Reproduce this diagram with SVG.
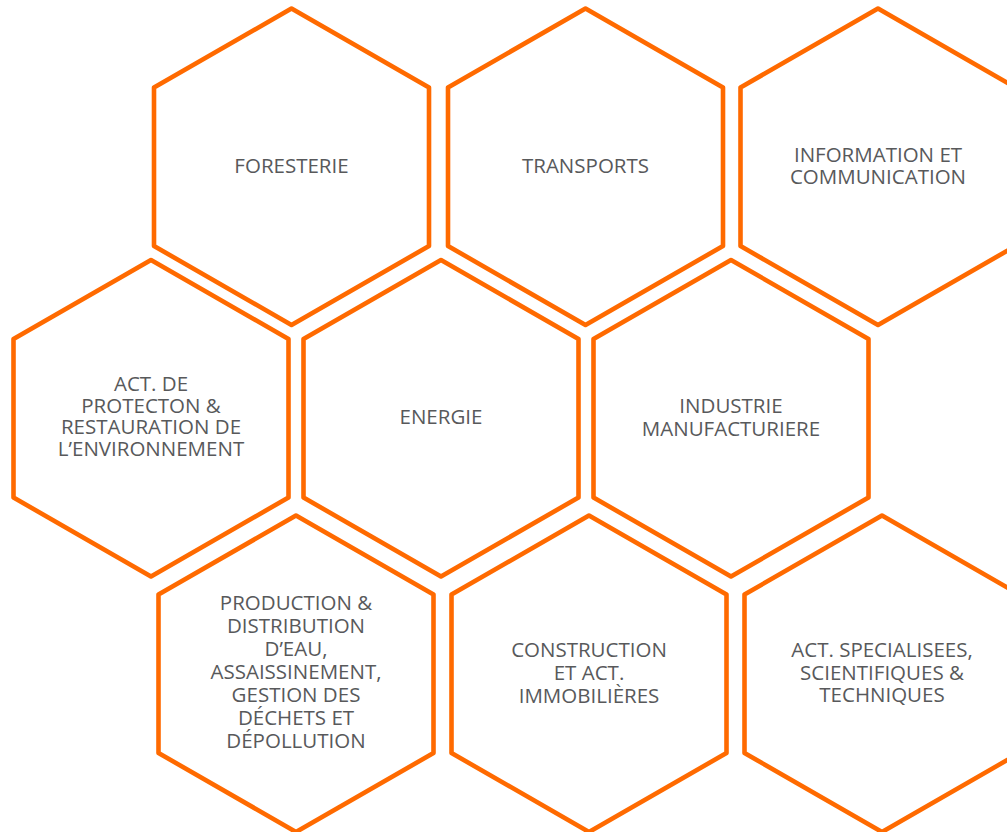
<svg xmlns="http://www.w3.org/2000/svg" width="1007" height="832" viewBox="0 0 1007 832">
<defs>
<style>
.hex{fill:#ffffff;stroke:#ff6a00;stroke-width:4.6;stroke-linejoin:round}
.lbl{font-family:"Open Sans","Noto Sans","Liberation Sans",sans-serif;font-size:20.5px;fill:#58595b;text-anchor:middle}
</style>
<polygon id="hx" points="0,0 137.5,79 137.5,237.5 0,316.5 -137.5,237.5 -137.5,79"/>
</defs>
<rect width="1007" height="832" fill="#ffffff"/>
<g id="connectors"/>
<g id="n-foresterie">
<use href="#hx" class="hex" x="291.5" y="8.5"/>
<text class="lbl" x="291.5" y="173">FORESTERIE</text>
</g>
<g id="n-transports">
<use href="#hx" class="hex" x="585.5" y="8.5"/>
<text class="lbl" x="585.5" y="173">TRANSPORTS</text>
</g>
<g id="n-information">
<use href="#hx" class="hex" x="878" y="8.5"/>
<text class="lbl" x="878" y="161.5">INFORMATION ET</text>
<text class="lbl" x="878" y="184">COMMUNICATION</text>
</g>
<g id="n-act-environnement">
<use href="#hx" class="hex" x="151" y="260"/>
<text class="lbl" x="151" y="391">ACT. DE</text>
<text class="lbl" x="151" y="412.7">PROTECTON &amp;</text>
<text class="lbl" x="151" y="434.3">RESTAURATION DE</text>
<text class="lbl" x="151" y="456">L’ENVIRONNEMENT</text>
</g>
<g id="n-energie">
<use href="#hx" class="hex" x="441" y="260"/>
<text class="lbl" x="441" y="423.5">ENERGIE</text>
</g>
<g id="n-industrie">
<use href="#hx" class="hex" x="731" y="260"/>
<text class="lbl" x="731" y="413.3">INDUSTRIE</text>
<text class="lbl" x="731" y="435.7">MANUFACTURIERE</text>
</g>
<g id="n-production">
<use href="#hx" class="hex" x="296" y="515.5"/>
<text class="lbl" x="296" y="610">PRODUCTION &amp;</text>
<text class="lbl" x="296" y="633">DISTRIBUTION</text>
<text class="lbl" x="296" y="656">D’EAU,</text>
<text class="lbl" x="296" y="679">ASSAISSINEMENT,</text>
<text class="lbl" x="296" y="702">GESTION DES</text>
<text class="lbl" x="296" y="725">DÉCHETS ET</text>
<text class="lbl" x="296" y="748">DÉPOLLUTION</text>
</g>
<g id="n-construction">
<use href="#hx" class="hex" x="589" y="515.5"/>
<text class="lbl" x="589" y="656.7">CONSTRUCTION</text>
<text class="lbl" x="589" y="679.7">ET ACT.</text>
<text class="lbl" x="589" y="702.7">IMMOBILIÈRES</text>
</g>
<g id="n-act-specialisees">
<use href="#hx" class="hex" x="882" y="515.5"/>
<text class="lbl" x="882" y="656.7">ACT. SPECIALISEES,</text>
<text class="lbl" x="882" y="679.5">SCIENTIFIQUES &amp;</text>
<text class="lbl" x="882" y="702.3">TECHNIQUES</text>
</g>
</svg>
